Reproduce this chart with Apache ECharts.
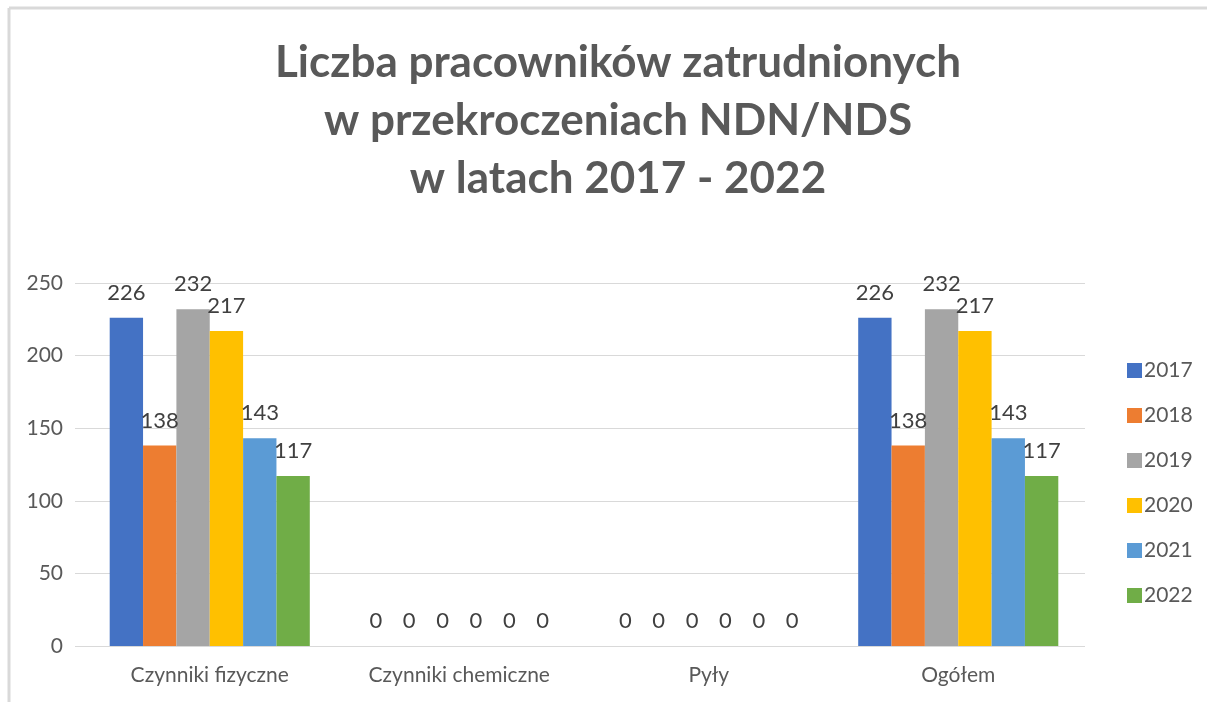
<!DOCTYPE html>
<html>
<head>
<meta charset="utf-8">
<script src="https://cdn.jsdelivr.net/npm/echarts@6/dist/echarts.min.js"></script>
<style>
  html, body { margin: 0; padding: 0; background: #fff; }
  #chart { width: 1207px; height: 702px; }
</style>
</head>
<body>
<div id="chart"></div>
<script>
var categories = ["Czynniki fizyczne", "Czynniki chemiczne", "Pyły", "Ogółem"];
var years = ["2017", "2018", "2019", "2020", "2021", "2022"];
var v2017 = [226, 0, 0, 226];
var v2018 = [138, 0, 0, 138];
var v2019 = [232, 0, 0, 232];
var v2020 = [217, 0, 0, 217];
var v2021 = [143, 0, 0, 143];
var v2022 = [117, 0, 0, 117];
var values = [v2017, v2018, v2019, v2020, v2021, v2022];
var colors = ["#4472C4", "#ED7D31", "#A5A5A5", "#FFC000", "#5B9BD5", "#70AD47"];

var font = "Lato, 'Open Sans', sans-serif";

var myChart = echarts.init(document.getElementById("chart"));
myChart.setOption({
  animation: false,
  color: colors,
  title: {
    text: "Liczba pracowników zatrudnionych\nw przekroczeniach NDN/NDS\nw latach 2017 - 2022",
    left: 613,
    textAlign: "center",
    top: 29,
    textStyle: {
      fontFamily: font,
      fontSize: 44,
      fontWeight: "bold",
      color: "#595959",
      lineHeight: 58
    }
  },
  graphic: [
    {
      type: "line",
      shape: { x1: 9, y1: 8, x2: 1207, y2: 8 },
      style: { stroke: "#d9d9d9", lineWidth: 3 }
    },
    {
      type: "line",
      shape: { x1: 9, y1: 8, x2: 9, y2: 702 },
      style: { stroke: "#d9d9d9", lineWidth: 3 }
    }
  ],
  legend: {
    orient: "vertical",
    left: 1122,
    top: 355,
    icon: "rect",
    itemWidth: 15,
    itemHeight: 15,
    itemGap: 24,
    textStyle: { fontFamily: font, fontSize: 21, color: "#595959", padding: [0, 0, 0, -3] },
    data: years
  },
  // grid 0: the bars; grid 1: the wider gridlines and the y labels
  grid: [
    { left: 85, right: 124, top: 283, bottom: 56 },
    { left: 75, right: 122, top: 283, bottom: 56 }
  ],
  xAxis: [
    {
      type: "category",
      gridIndex: 0,
      data: categories,
      axisLine: { show: false },
      axisTick: { show: false },
      axisLabel: { fontFamily: font, fontSize: 21, color: "#595959", margin: 19 }
    },
    {
      type: "value",
      gridIndex: 1,
      show: true,
      axisLine: { show: false },
      axisTick: { show: false },
      axisLabel: { show: false },
      splitLine: { show: false }
    }
  ],
  yAxis: [
    {
      type: "value",
      gridIndex: 0,
      min: 0,
      max: 250,
      interval: 50,
      axisLine: { show: false },
      axisTick: { show: false },
      axisLabel: { show: false },
      splitLine: { show: false }
    },
    {
      type: "value",
      gridIndex: 1,
      min: 0,
      max: 250,
      interval: 50,
      axisLine: { show: false },
      axisTick: { show: false },
      splitLine: { lineStyle: { color: "#d9d9d9", width: 1 } },
      axisLabel: { fontFamily: font, fontSize: 21, color: "#595959", margin: 12 }
    }
  ],
  series: years.map(function (y, i) {
    return {
      name: y,
      type: "bar",
      xAxisIndex: 0,
      yAxisIndex: 0,
      data: values[i],
      barGap: "0%",
      barCategoryGap: "19.8%",
      label: {
        show: true,
        position: "top",
        distance: 14,
        fontFamily: font,
        fontSize: 22,
        color: "#404040"
      }
    };
  })
});
</script>
</body>
</html>
